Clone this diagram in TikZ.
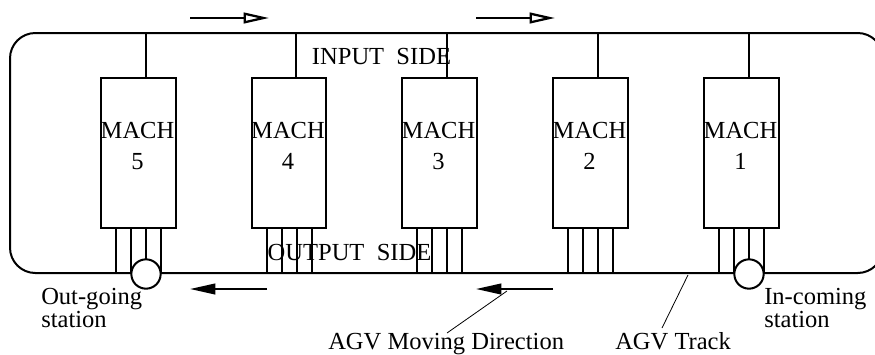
\documentclass[tikz,border=0pt]{standalone}
\usepackage{fontspec}
\setmainfont{Liberation Serif}
\usetikzlibrary{arrows.meta}
\tikzset{
  track/.style={draw=black, line width=1.5pt, line cap=round, line join=round},
  mach/.style={draw=black, line width=1.5pt, minimum width=56pt, minimum height=112pt, inner sep=0pt},
  wire/.style={draw=black, line width=1.5pt},
  lead/.style={draw=black, line width=0.6pt},
  stn/.style={circle, draw=black, line width=1.5pt, fill=white, minimum size=22pt, inner sep=0pt},
  lab/.style={text=black, font=\fontsize{18.4}{22}\selectfont, inner sep=0pt, align=center},
  sublab/.style={text=black, font=\fontsize{18.4}{16}\selectfont, inner sep=0pt, align=left},
  dirr/.style={draw=black, line width=1.5pt, -{Triangle[open,length=19pt,width=8pt,line width=1.7pt]}},
  dirl/.style={draw=black, line width=1.5pt, -{Triangle[length=19pt,width=8pt]}},
}
\begin{document}
\begin{tikzpicture}[x=0.75pt,y=-0.75pt]
  \useasboundingbox (0,0) rectangle (875,354);
  % AGV track
  \draw[track, rounded corners=19pt] (10,33) rectangle (883,273);
  % machines, numbered from the right
  \foreach \n/\x in {5/138.5,4/289,3/439.5,2/590.5,1/741.5}{
    \node[mach] (m\n) at (\x,153) {};
    \node[lab] (t\n) at (\x-1,146) {MACH\\[1.5pt]\n};
    \coordinate (in\n) at (\x+7,33);
    \coordinate (a\n) at (\x-22.5,273);
    \coordinate (b\n) at (\x-7.5,273);
    \coordinate (c\n) at (\x+7.5,273);
    \coordinate (d\n) at (\x+22.5,273);
    \draw[wire] (m\n.north -| in\n) -- (in\n);
    \draw[wire] (m\n.south -| a\n) -- (a\n);
    \draw[wire] (m\n.south -| b\n) -- (b\n);
    \draw[wire] (m\n.south -| c\n) -- (c\n);
    \draw[wire] (m\n.south -| d\n) -- (d\n);
  }
  % stations
  \node[stn] (s5) at (146,274) {};
  \node[stn] (s1) at (749,274) {};
  \node[lab] (inp) at (381.5,56) {INPUT\ \ SIDE};
  \node[lab] (outp) at (349.5,252) {OUTPUT\ \ SIDE};
  \node[sublab, anchor=north west] (sout) at (41,288) {Out-going\\station};
  \node[sublab, anchor=north west] (sin) at (764,288) {In-coming\\station};
  \node[lab, anchor=base west] (dir) at (328,349) {AGV Moving Direction};
  \node[lab, anchor=base west] (trk) at (615,349) {AGV Track};
  % moving direction
  \coordinate (r1a) at (190,18); \coordinate (r1b) at (269,18);
  \coordinate (r2a) at (476,18); \coordinate (r2b) at (555,18);
  \coordinate (l1a) at (267,289); \coordinate (l1b) at (190,289);
  \coordinate (l2a) at (553,289); \coordinate (l2b) at (476,289);
  \draw[dirr] (r1a) -- (r1b);
  \draw[dirr] (r2a) -- (r2b);
  \draw[dirl] (l1a) -- (l1b);
  \draw[dirl] (l2a) -- (l2b);
  % leaders
  \coordinate (e1) at (507,291); \coordinate (e2) at (447,333);
  \coordinate (e3) at (688,275); \coordinate (e4) at (662,328);
  \draw[lead] (e2) -- (e1);
  \draw[lead] (e4) -- (e3);
\end{tikzpicture}
\end{document}
